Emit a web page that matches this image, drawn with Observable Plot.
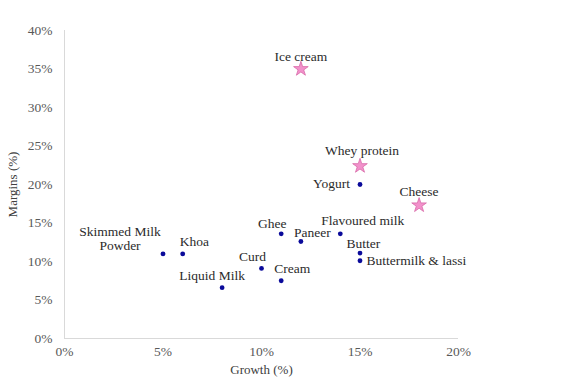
<!DOCTYPE html>
<html>
<head>
<meta charset="utf-8">
<script src="https://cdn.jsdelivr.net/npm/d3@7"></script>
<script src="https://cdn.jsdelivr.net/npm/@observablehq/plot@0.6"></script>
<style>
  html, body { margin: 0; padding: 0; background: #fff; }
  #chart { width: 579px; height: 379px; }
  #chart svg text { font-family: 'Liberation Serif', 'Times New Roman', serif; }
</style>
</head>
<body>
<div id="chart"></div>
<script>
// Data
const products = ["Ice cream", "Whey protein", "Cheese", "Yogurt", "Flavoured milk", "Ghee", "Paneer",
  "Butter", "Buttermilk & lassi", "Skimmed Milk\nPowder", "Khoa", "Curd", "Cream", "Liquid Milk"];
const growth  = [12, 15, 18, 15, 14, 11, 12, 15, 15, 5, 6, 10, 11, 8];
const margins = [35, 22.4, 17.3, 20, 13.6, 13.6, 12.6, 11.1, 10.1, 11, 11, 9.1, 7.5, 6.6];
const highlight = [true, true, true, false, false, false, false, false, false, false, false, false, false, false];
const xTicks = [0, 5, 10, 15, 20];
const yTicks = [0, 5, 10, 15, 20, 25, 30, 35, 40];

// Label placement (layout only): [dx, dy, anchor]
const labelPlacement = [
  [0, -13, "middle"], [2, -16, "middle"], [0, -14, "middle"], [-10, -1, "end"],
  [-19, -13, "start"], [-9, -10, "middle"], [-7, -9, "start"], [-13.5, -10, "start"],
  [6.5, 0, "start"], [-43, -15.5, "middle"], [-3, -12.5, "start"], [-9, -11.5, "middle"],
  [-7, -12, "start"], [-10, -12, "middle"]
];

const rows = products.map((p, i) => ({
  name: p, g: growth[i], m: margins[i], star: highlight[i],
  dx: labelPlacement[i][0], dy: labelPlacement[i][1], anchor: labelPlacement[i][2]
}));

const font = "'Liberation Serif', 'Times New Roman', serif";

const labelMarks = rows.map(r => Plot.text([r], {
  x: "g", y: "m", text: "name", dx: r.dx, dy: r.dy, textAnchor: r.anchor,
  fill: "#2b2b2b", fontSize: 13.5, lineHeight: 1.04
}));

const chart = Plot.plot({
  width: 579,
  height: 379,
  marginLeft: 64,
  marginRight: 121,
  marginTop: 30,
  marginBottom: 41,
  style: { fontFamily: font, fontSize: "13.5px", background: "#fff", overflow: "visible" },
  x: { domain: [0, 20], ticks: xTicks, tickFormat: d => d + "%", tickSize: 0, tickPadding: 8,
       label: "Growth (%)", labelAnchor: "center", labelArrow: "none", labelOffset: 35 },
  y: { domain: [0, 40], ticks: yTicks, tickFormat: d => d + "%", tickSize: 0, tickPadding: 12,
       label: "Margins (%)", labelAnchor: "center", labelArrow: "none", labelOffset: 57 },
  marks: [
    Plot.ruleX([0], { stroke: "#d9d9d9" }),
    Plot.ruleY([0], { stroke: "#d9d9d9" }),
    Plot.dot(rows.filter(d => !d.star), { x: "g", y: "m", r: 2.4, fill: "#0a0a9a", stroke: "none" }),
    Plot.dot(rows.filter(d => d.star), { x: "g", y: "m", symbol: "star", r: 4.6, fill: "#f291cb", stroke: "#d86aa8", strokeWidth: 0.8 }),
    ...labelMarks
  ]
});

chart.querySelectorAll("[aria-label='x-axis tick label'] text, [aria-label='y-axis tick label'] text")
  .forEach(t => t.setAttribute("fill", "#595959"));
chart.querySelectorAll("[aria-label='x-axis label'] text, [aria-label='y-axis label'] text")
  .forEach(t => { t.setAttribute("fill", "#404040"); t.setAttribute("font-size", "13px"); });

document.getElementById("chart").appendChild(chart);
</script>
</body>
</html>
